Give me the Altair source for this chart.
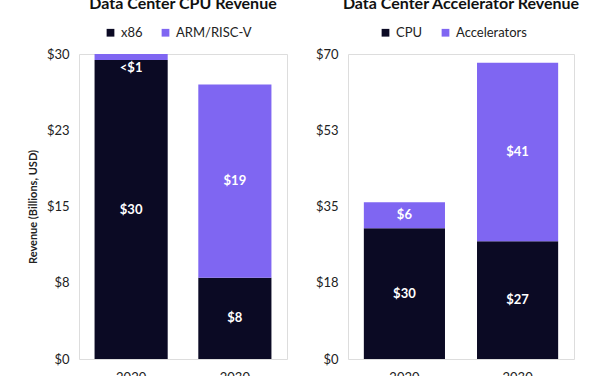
import altair as alt
import pandas as pd

years = ["2020", "2030"]

cpu_series = ["x86", "ARM/RISC-V"]
cpu_x86 = [29.4, 8.0]
cpu_arm = [0.6, 19.0]
cpu_labels_x86 = ["$30", "$8"]
cpu_labels_arm = ["<$1", "$19"]

acc_series = ["CPU", "Accelerators"]
acc_cpu = [30.0, 27.0]
acc_acc = [6.0, 41.0]
acc_labels_cpu = ["$30", "$27"]
acc_labels_acc = ["$6", "$41"]

cpu_ticks = [0, 7.5, 15, 22.5, 30]
acc_ticks = [0, 17.5, 35, 52.5, 70]

DARK = "#0b0a24"
PURPLE = "#7f66f2"
FONT = "Lato"


def build_df(series, s1, s2, l1, l2):
    rows = []
    for i, y in enumerate(years):
        rows.append({"year": y, "series": series[0], "value": s1[i], "label": l1[i], "order": 0})
        rows.append({"year": y, "series": series[1], "value": s2[i], "label": l2[i], "order": 1})
    return pd.DataFrame(rows)


def panel(df, series, ticks, title, width, pad_inner, pad_outer, y_title, legend_x):
    base = alt.Chart(df).transform_stack(
        stack="value", groupby=["year"], as_=["v0", "v1"], sort=[alt.SortField("order")]
    ).transform_calculate(mid="(datum.v0 + datum.v1) / 2")

    x = alt.X(
        "year:N",
        title=None,
        scale=alt.Scale(paddingInner=pad_inner, paddingOuter=pad_outer),
        axis=alt.Axis(labelAngle=0, ticks=False, domain=False, labelFontSize=13,
                      labelColor="#222", labelPadding=12, labelFont=FONT),
    )
    yscale = alt.Scale(domain=[ticks[0], ticks[-1]], nice=False)
    yaxis = alt.Axis(
        values=ticks, labelExpr="'$' + round(datum.value)", ticks=False, domain=False,
        grid=False, labelFontSize=13, labelColor="#222", labelPadding=10, labelFont=FONT,
        title=y_title if y_title else None, titleFontSize=11, titleFontWeight="bold",
        titleColor="#222", titleFont=FONT, titlePadding=8,
    )

    bars = base.mark_bar().encode(
        x=x,
        y=alt.Y("v0:Q", scale=yscale, axis=yaxis),
        y2="v1:Q",
        color=alt.Color(
            "series:N",
            scale=alt.Scale(domain=series, range=[DARK, PURPLE]),
            legend=alt.Legend(
                title=None, orient="none", direction="horizontal", legendX=legend_x, legendY=-28,
                symbolType="square", symbolSize=60, symbolStrokeWidth=0, labelFontSize=13,
                labelColor="#222", labelFont=FONT, columnPadding=16, labelOffset=4,
            ),
        ),
    )

    big = base.transform_filter("datum.value >= 1").mark_text(
        color="white", fontWeight="bold", fontSize=13, font=FONT, baseline="middle"
    ).encode(x=x, y=alt.Y("mid:Q", scale=yscale), text="label:N")

    small = base.transform_filter("datum.value < 1").mark_text(
        color="white", fontWeight="bold", fontSize=13, font=FONT, baseline="top", dy=2
    ).encode(x=x, y=alt.Y("v0:Q", scale=yscale), text="label:N")

    return alt.layer(bars, big, small).properties(
        width=width, height=305,
        title=alt.TitleParams(title, fontSize=16, fontWeight="bold", font=FONT, color="#111",
                              offset=14, anchor="middle"),
    )


left = panel(build_df(cpu_series, cpu_x86, cpu_arm, cpu_labels_x86, cpu_labels_arm),
             cpu_series, cpu_ticks, "Data Center CPU Revenue", 208, 0.295, 0.15,
             "Revenue (Billions, USD)", 25)
right = panel(build_df(acc_series, acc_cpu, acc_acc, acc_labels_cpu, acc_labels_acc),
              acc_series, acc_ticks, "Data Center Accelerator Revenue", 226, 0.283, 0.14,
              None, 31)

chart = alt.hconcat(left, right, spacing=26).resolve_scale(color="independent").configure_view(
    stroke="#cccccc", strokeWidth=1
).configure(background="white").properties(
    padding={"top": -5, "left": 26, "right": 10, "bottom": 0}
)

chart.save("out.html", embed_options={"renderer": "svg", "actions": False})
